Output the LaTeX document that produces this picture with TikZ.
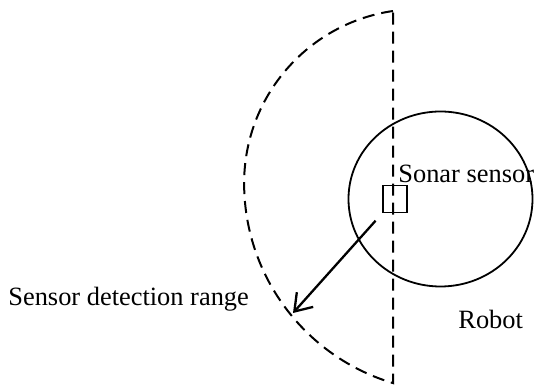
\documentclass[tikz,border=0pt]{standalone}
\usepackage{fontspec}
\setmainfont{Liberation Serif}
\usetikzlibrary{arrows.meta,shapes.geometric}

\begin{document}
\begin{tikzpicture}[x=0.5pt,y=0.5pt,>={Straight Barb[length=8pt,width=11pt]},
    txt/.style={inner sep=0pt,anchor=base west,font=\fontsize{13.2}{16}\selectfont},
    detrange/.style={draw,line width=1pt,dash pattern=on 6pt off 3.5pt},
    sensorbox/.style={draw,line width=0.75pt,inner sep=0pt,minimum width=12pt,minimum height=13.5pt}]
    \useasboundingbox (0,0) rectangle (537,386);
    % detection range
    \draw[detrange] (393,375) arc[start angle=98.3,end angle=180,radius=174]
      arc[start angle=180,end angle=253.4,radius=208.7] -- cycle;
    % robot body
    \node[draw,line width=0.9pt,ellipse,minimum width=92pt,minimum height=87.5pt,inner sep=0pt] (robot) at (440.5,187) {};
    \node[sensorbox] (sensor) at (395,187) {};
    \coordinate (rangeedge) at (293,73);
    \draw[->,line width=1.15pt,shorten <=5pt] (sensor) -- (rangeedge);
    \node[txt] (sonarlbl) at (398,203) {Sonar sensor};
    \node[txt] (rangelbl) at (8,80) {Sensor detection range};
    \node[txt] (robotlbl) at (458,57) {Robot};
\end{tikzpicture}
\end{document}
